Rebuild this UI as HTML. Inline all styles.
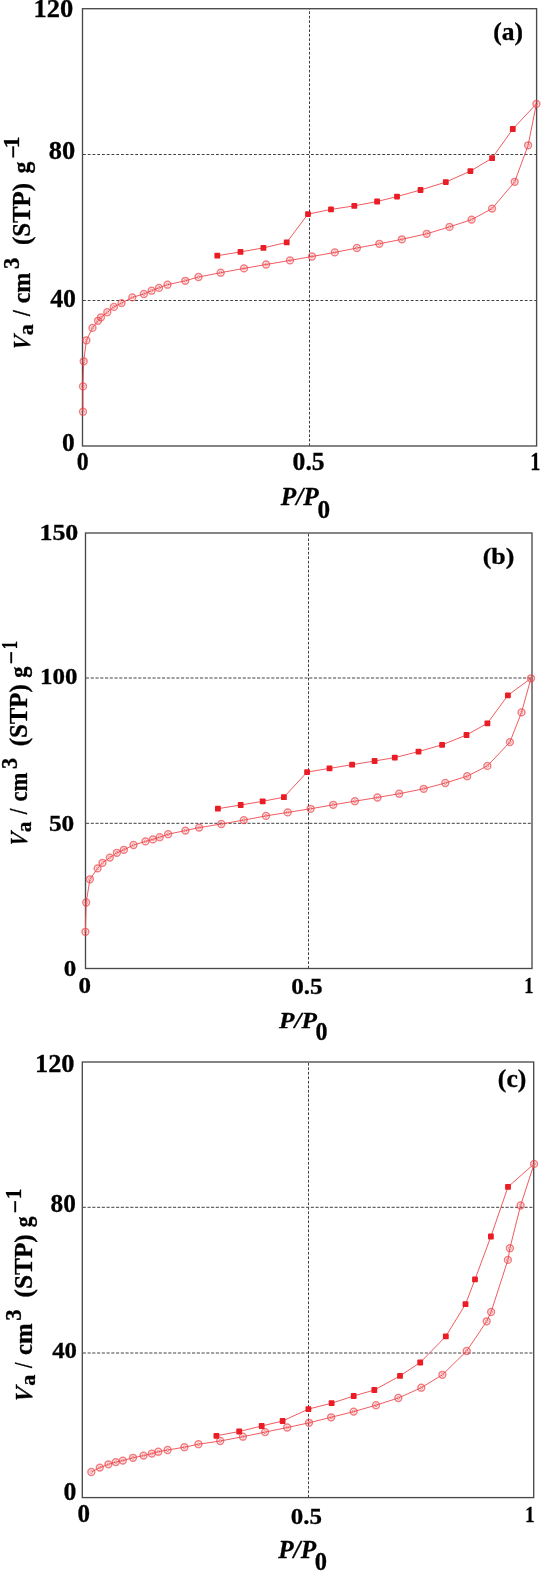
<!DOCTYPE html>
<html><head><meta charset="utf-8"><title>Adsorption isotherms</title>
<style>html,body{margin:0;padding:0;background:#fff}svg{display:block}</style>
</head><body>
<svg width="542" height="1571" viewBox="0 0 542 1571">
<style>
.ax{fill:none;stroke:#4a4a4a;stroke-width:1.35}
.gh{stroke:#404040;stroke-width:1;stroke-dasharray:2.8 1.95}
.gv{stroke:#404040;stroke-width:1;stroke-dasharray:2.7 1.8}
.dl{fill:none;stroke:#ee5257;stroke-width:0.95}
.mo{fill:none;stroke:#ec3f46;stroke-width:1.5;opacity:.68}
.mi{fill:none;stroke:#ec3f46;stroke-width:1.0;opacity:.55}
.ms{fill:#ea1d25}
text{font-family:"Liberation Serif","Times New Roman",serif;font-weight:bold;fill:#000;stroke:#000;stroke-width:0.3}
</style>
<defs><filter id="soft" filterUnits="userSpaceOnUse" x="0" y="0" width="542" height="1571"><feGaussianBlur stdDeviation="0.35"/></filter></defs>
<rect width="542" height="1571" fill="#fff"/>
<g filter="url(#soft)">
<line class="gh" x1="83.0" y1="154.5" x2="536.6" y2="154.5"/>
<line class="gh" x1="83.0" y1="300.5" x2="536.6" y2="300.5"/>
<line class="gv" x1="309.5" y1="446" x2="309.5" y2="8.7"/>
<rect class="ax" x="82.5" y="8.7" width="454.1" height="437.3"/>
<polyline class="dl" points="83.0,411.7 83.0,386.4 83.7,361.3 86.4,340.3 92.5,327.9 98.0,320.8 101.0,317.3 107.3,312.2 113.9,306.9 121.5,303.1 132.3,297.4 143.9,294.0 151.6,290.7 159.0,287.9 167.5,284.7 185.3,280.8 198.5,277.0 220.7,272.7 244.0,268.4 266.1,264.5 290.0,260.4 312.0,256.5 334.8,252.4 356.9,248.0 379.3,243.8 401.9,239.3 426.7,233.8 449.5,226.9 471.6,219.6 492.1,208.6 514.7,181.8 528.1,145.3 536.4,103.9"/>
<polyline class="dl" points="536.4,103.9 512.8,129.0 492.1,158.2 470.4,171.1 445.8,182.1 420.5,190.0 397.0,196.6 377.1,201.5 354.3,205.9 331.0,209.4 308.0,214.1 286.7,242.4 263.4,247.9 240.5,251.9 217.3,255.7"/>
<circle cx="83.0" cy="411.7" r="3.4" class="mo"/><circle cx="83.0" cy="411.7" r="1.5" class="mi"/>
<circle cx="83.0" cy="386.4" r="3.4" class="mo"/><circle cx="83.0" cy="386.4" r="1.5" class="mi"/>
<circle cx="83.7" cy="361.3" r="3.4" class="mo"/><circle cx="83.7" cy="361.3" r="1.5" class="mi"/>
<circle cx="86.4" cy="340.3" r="3.4" class="mo"/><circle cx="86.4" cy="340.3" r="1.5" class="mi"/>
<circle cx="92.5" cy="327.9" r="3.4" class="mo"/><circle cx="92.5" cy="327.9" r="1.5" class="mi"/>
<circle cx="98.0" cy="320.8" r="3.4" class="mo"/><circle cx="98.0" cy="320.8" r="1.5" class="mi"/>
<circle cx="101.0" cy="317.3" r="3.4" class="mo"/><circle cx="101.0" cy="317.3" r="1.5" class="mi"/>
<circle cx="107.3" cy="312.2" r="3.4" class="mo"/><circle cx="107.3" cy="312.2" r="1.5" class="mi"/>
<circle cx="113.9" cy="306.9" r="3.4" class="mo"/><circle cx="113.9" cy="306.9" r="1.5" class="mi"/>
<circle cx="121.5" cy="303.1" r="3.4" class="mo"/><circle cx="121.5" cy="303.1" r="1.5" class="mi"/>
<circle cx="132.3" cy="297.4" r="3.4" class="mo"/><circle cx="132.3" cy="297.4" r="1.5" class="mi"/>
<circle cx="143.9" cy="294.0" r="3.4" class="mo"/><circle cx="143.9" cy="294.0" r="1.5" class="mi"/>
<circle cx="151.6" cy="290.7" r="3.4" class="mo"/><circle cx="151.6" cy="290.7" r="1.5" class="mi"/>
<circle cx="159.0" cy="287.9" r="3.4" class="mo"/><circle cx="159.0" cy="287.9" r="1.5" class="mi"/>
<circle cx="167.5" cy="284.7" r="3.4" class="mo"/><circle cx="167.5" cy="284.7" r="1.5" class="mi"/>
<circle cx="185.3" cy="280.8" r="3.4" class="mo"/><circle cx="185.3" cy="280.8" r="1.5" class="mi"/>
<circle cx="198.5" cy="277.0" r="3.4" class="mo"/><circle cx="198.5" cy="277.0" r="1.5" class="mi"/>
<circle cx="220.7" cy="272.7" r="3.4" class="mo"/><circle cx="220.7" cy="272.7" r="1.5" class="mi"/>
<circle cx="244.0" cy="268.4" r="3.4" class="mo"/><circle cx="244.0" cy="268.4" r="1.5" class="mi"/>
<circle cx="266.1" cy="264.5" r="3.4" class="mo"/><circle cx="266.1" cy="264.5" r="1.5" class="mi"/>
<circle cx="290.0" cy="260.4" r="3.4" class="mo"/><circle cx="290.0" cy="260.4" r="1.5" class="mi"/>
<circle cx="312.0" cy="256.5" r="3.4" class="mo"/><circle cx="312.0" cy="256.5" r="1.5" class="mi"/>
<circle cx="334.8" cy="252.4" r="3.4" class="mo"/><circle cx="334.8" cy="252.4" r="1.5" class="mi"/>
<circle cx="356.9" cy="248.0" r="3.4" class="mo"/><circle cx="356.9" cy="248.0" r="1.5" class="mi"/>
<circle cx="379.3" cy="243.8" r="3.4" class="mo"/><circle cx="379.3" cy="243.8" r="1.5" class="mi"/>
<circle cx="401.9" cy="239.3" r="3.4" class="mo"/><circle cx="401.9" cy="239.3" r="1.5" class="mi"/>
<circle cx="426.7" cy="233.8" r="3.4" class="mo"/><circle cx="426.7" cy="233.8" r="1.5" class="mi"/>
<circle cx="449.5" cy="226.9" r="3.4" class="mo"/><circle cx="449.5" cy="226.9" r="1.5" class="mi"/>
<circle cx="471.6" cy="219.6" r="3.4" class="mo"/><circle cx="471.6" cy="219.6" r="1.5" class="mi"/>
<circle cx="492.1" cy="208.6" r="3.4" class="mo"/><circle cx="492.1" cy="208.6" r="1.5" class="mi"/>
<circle cx="514.7" cy="181.8" r="3.4" class="mo"/><circle cx="514.7" cy="181.8" r="1.5" class="mi"/>
<circle cx="528.1" cy="145.3" r="3.4" class="mo"/><circle cx="528.1" cy="145.3" r="1.5" class="mi"/>
<circle cx="536.4" cy="103.9" r="3.4" class="mo"/><circle cx="536.4" cy="103.9" r="1.5" class="mi"/>
<rect x="509.9" y="126.1" width="5.8" height="5.8" rx="0.9" class="ms"/>
<rect x="489.2" y="155.3" width="5.8" height="5.8" rx="0.9" class="ms"/>
<rect x="467.5" y="168.2" width="5.8" height="5.8" rx="0.9" class="ms"/>
<rect x="442.9" y="179.2" width="5.8" height="5.8" rx="0.9" class="ms"/>
<rect x="417.6" y="187.1" width="5.8" height="5.8" rx="0.9" class="ms"/>
<rect x="394.1" y="193.7" width="5.8" height="5.8" rx="0.9" class="ms"/>
<rect x="374.2" y="198.6" width="5.8" height="5.8" rx="0.9" class="ms"/>
<rect x="351.4" y="203.0" width="5.8" height="5.8" rx="0.9" class="ms"/>
<rect x="328.1" y="206.5" width="5.8" height="5.8" rx="0.9" class="ms"/>
<rect x="305.1" y="211.2" width="5.8" height="5.8" rx="0.9" class="ms"/>
<rect x="283.8" y="239.5" width="5.8" height="5.8" rx="0.9" class="ms"/>
<rect x="260.5" y="245.0" width="5.8" height="5.8" rx="0.9" class="ms"/>
<rect x="237.6" y="249.0" width="5.8" height="5.8" rx="0.9" class="ms"/>
<rect x="214.4" y="252.8" width="5.8" height="5.8" rx="0.9" class="ms"/>
<line class="gh" x1="86.0" y1="678" x2="532" y2="678" style="stroke-dasharray:3.1 1.65"/>
<line class="gh" x1="86.0" y1="823.3" x2="532" y2="823.3" style="stroke-dasharray:3.1 1.65"/>
<line class="gv" x1="308.5" y1="968.5" x2="308.5" y2="533"/>
<rect class="ax" x="85.5" y="533" width="446.5" height="435.5"/>
<polyline class="dl" points="85.4,931.8 86.2,902.5 89.9,879.3 97.6,868.4 102.5,862.8 109.8,857.6 116.9,852.8 123.9,849.8 133.5,845.0 145.5,841.4 152.9,839.4 159.7,837.2 168.1,834.2 185.4,830.6 199.1,827.6 221.3,824.0 243.8,820.1 266.0,815.9 287.7,812.4 310.6,808.8 333.2,804.8 354.9,801.2 377.5,797.5 399.2,793.7 423.7,788.8 445.3,783.0 467.2,776.2 487.4,765.9 509.9,742.1 521.5,712.4 531.0,678.3"/>
<polyline class="dl" points="531.0,678.3 507.9,695.3 487.4,723.3 466.5,735.0 442.1,744.8 418.5,751.6 394.8,757.6 374.6,761.0 352.1,764.7 329.5,768.4 307.1,772.1 283.9,797.2 262.7,801.3 240.7,805.0 217.9,808.7"/>
<circle cx="85.4" cy="931.8" r="3.4" class="mo"/><circle cx="85.4" cy="931.8" r="1.5" class="mi"/>
<circle cx="86.2" cy="902.5" r="3.4" class="mo"/><circle cx="86.2" cy="902.5" r="1.5" class="mi"/>
<circle cx="89.9" cy="879.3" r="3.4" class="mo"/><circle cx="89.9" cy="879.3" r="1.5" class="mi"/>
<circle cx="97.6" cy="868.4" r="3.4" class="mo"/><circle cx="97.6" cy="868.4" r="1.5" class="mi"/>
<circle cx="102.5" cy="862.8" r="3.4" class="mo"/><circle cx="102.5" cy="862.8" r="1.5" class="mi"/>
<circle cx="109.8" cy="857.6" r="3.4" class="mo"/><circle cx="109.8" cy="857.6" r="1.5" class="mi"/>
<circle cx="116.9" cy="852.8" r="3.4" class="mo"/><circle cx="116.9" cy="852.8" r="1.5" class="mi"/>
<circle cx="123.9" cy="849.8" r="3.4" class="mo"/><circle cx="123.9" cy="849.8" r="1.5" class="mi"/>
<circle cx="133.5" cy="845.0" r="3.4" class="mo"/><circle cx="133.5" cy="845.0" r="1.5" class="mi"/>
<circle cx="145.5" cy="841.4" r="3.4" class="mo"/><circle cx="145.5" cy="841.4" r="1.5" class="mi"/>
<circle cx="152.9" cy="839.4" r="3.4" class="mo"/><circle cx="152.9" cy="839.4" r="1.5" class="mi"/>
<circle cx="159.7" cy="837.2" r="3.4" class="mo"/><circle cx="159.7" cy="837.2" r="1.5" class="mi"/>
<circle cx="168.1" cy="834.2" r="3.4" class="mo"/><circle cx="168.1" cy="834.2" r="1.5" class="mi"/>
<circle cx="185.4" cy="830.6" r="3.4" class="mo"/><circle cx="185.4" cy="830.6" r="1.5" class="mi"/>
<circle cx="199.1" cy="827.6" r="3.4" class="mo"/><circle cx="199.1" cy="827.6" r="1.5" class="mi"/>
<circle cx="221.3" cy="824.0" r="3.4" class="mo"/><circle cx="221.3" cy="824.0" r="1.5" class="mi"/>
<circle cx="243.8" cy="820.1" r="3.4" class="mo"/><circle cx="243.8" cy="820.1" r="1.5" class="mi"/>
<circle cx="266.0" cy="815.9" r="3.4" class="mo"/><circle cx="266.0" cy="815.9" r="1.5" class="mi"/>
<circle cx="287.7" cy="812.4" r="3.4" class="mo"/><circle cx="287.7" cy="812.4" r="1.5" class="mi"/>
<circle cx="310.6" cy="808.8" r="3.4" class="mo"/><circle cx="310.6" cy="808.8" r="1.5" class="mi"/>
<circle cx="333.2" cy="804.8" r="3.4" class="mo"/><circle cx="333.2" cy="804.8" r="1.5" class="mi"/>
<circle cx="354.9" cy="801.2" r="3.4" class="mo"/><circle cx="354.9" cy="801.2" r="1.5" class="mi"/>
<circle cx="377.5" cy="797.5" r="3.4" class="mo"/><circle cx="377.5" cy="797.5" r="1.5" class="mi"/>
<circle cx="399.2" cy="793.7" r="3.4" class="mo"/><circle cx="399.2" cy="793.7" r="1.5" class="mi"/>
<circle cx="423.7" cy="788.8" r="3.4" class="mo"/><circle cx="423.7" cy="788.8" r="1.5" class="mi"/>
<circle cx="445.3" cy="783.0" r="3.4" class="mo"/><circle cx="445.3" cy="783.0" r="1.5" class="mi"/>
<circle cx="467.2" cy="776.2" r="3.4" class="mo"/><circle cx="467.2" cy="776.2" r="1.5" class="mi"/>
<circle cx="487.4" cy="765.9" r="3.4" class="mo"/><circle cx="487.4" cy="765.9" r="1.5" class="mi"/>
<circle cx="509.9" cy="742.1" r="3.4" class="mo"/><circle cx="509.9" cy="742.1" r="1.5" class="mi"/>
<circle cx="521.5" cy="712.4" r="3.4" class="mo"/><circle cx="521.5" cy="712.4" r="1.5" class="mi"/>
<circle cx="531.0" cy="678.3" r="3.4" class="mo"/><circle cx="531.0" cy="678.3" r="1.5" class="mi"/>
<rect x="505.0" y="692.4" width="5.8" height="5.8" rx="0.9" class="ms"/>
<rect x="484.5" y="720.4" width="5.8" height="5.8" rx="0.9" class="ms"/>
<rect x="463.6" y="732.1" width="5.8" height="5.8" rx="0.9" class="ms"/>
<rect x="439.2" y="741.9" width="5.8" height="5.8" rx="0.9" class="ms"/>
<rect x="415.6" y="748.7" width="5.8" height="5.8" rx="0.9" class="ms"/>
<rect x="391.9" y="754.7" width="5.8" height="5.8" rx="0.9" class="ms"/>
<rect x="371.7" y="758.1" width="5.8" height="5.8" rx="0.9" class="ms"/>
<rect x="349.2" y="761.8" width="5.8" height="5.8" rx="0.9" class="ms"/>
<rect x="326.6" y="765.5" width="5.8" height="5.8" rx="0.9" class="ms"/>
<rect x="304.2" y="769.2" width="5.8" height="5.8" rx="0.9" class="ms"/>
<rect x="281.0" y="794.3" width="5.8" height="5.8" rx="0.9" class="ms"/>
<rect x="259.8" y="798.4" width="5.8" height="5.8" rx="0.9" class="ms"/>
<rect x="237.8" y="802.1" width="5.8" height="5.8" rx="0.9" class="ms"/>
<rect x="215.0" y="805.8" width="5.8" height="5.8" rx="0.9" class="ms"/>
<line class="gh" x1="82.8" y1="1207.3" x2="533.7" y2="1207.3" style="stroke-dasharray:3.1 1.65"/>
<line class="gh" x1="82.8" y1="1353.0" x2="533.7" y2="1353.0" style="stroke-dasharray:3.1 1.65"/>
<line class="gv" x1="308.5" y1="1497.6" x2="308.5" y2="1062"/>
<rect class="ax" x="82.3" y="1062" width="451.40000000000003" height="435.5999999999999"/>
<polyline class="dl" points="91.3,1472.0 99.8,1467.6 108.4,1464.3 115.8,1462.1 122.8,1460.6 133.0,1457.8 143.5,1455.6 151.8,1453.6 158.3,1451.7 167.6,1450.0 184.4,1447.2 198.4,1444.2 220.2,1441.0 242.9,1436.7 265.1,1432.1 287.2,1427.5 309.0,1422.8 331.1,1417.3 353.7,1411.6 376.0,1405.2 398.3,1398.0 421.3,1387.7 442.4,1374.8 466.7,1351.0 486.7,1321.3 491.1,1312.0 507.9,1259.9 509.9,1248.2 520.6,1205.5 534.1,1163.9"/>
<polyline class="dl" points="534.1,1163.9 508.0,1186.9 490.9,1236.5 475.0,1279.4 465.5,1304.2 445.8,1336.4 420.2,1362.5 400.0,1375.9 374.3,1390.0 353.7,1396.0 331.6,1403.2 308.4,1409.1 282.6,1421.0 261.7,1426.0 239.2,1431.5 216.4,1435.8"/>
<circle cx="91.3" cy="1472.0" r="3.4" class="mo"/><circle cx="91.3" cy="1472.0" r="1.5" class="mi"/>
<circle cx="99.8" cy="1467.6" r="3.4" class="mo"/><circle cx="99.8" cy="1467.6" r="1.5" class="mi"/>
<circle cx="108.4" cy="1464.3" r="3.4" class="mo"/><circle cx="108.4" cy="1464.3" r="1.5" class="mi"/>
<circle cx="115.8" cy="1462.1" r="3.4" class="mo"/><circle cx="115.8" cy="1462.1" r="1.5" class="mi"/>
<circle cx="122.8" cy="1460.6" r="3.4" class="mo"/><circle cx="122.8" cy="1460.6" r="1.5" class="mi"/>
<circle cx="133.0" cy="1457.8" r="3.4" class="mo"/><circle cx="133.0" cy="1457.8" r="1.5" class="mi"/>
<circle cx="143.5" cy="1455.6" r="3.4" class="mo"/><circle cx="143.5" cy="1455.6" r="1.5" class="mi"/>
<circle cx="151.8" cy="1453.6" r="3.4" class="mo"/><circle cx="151.8" cy="1453.6" r="1.5" class="mi"/>
<circle cx="158.3" cy="1451.7" r="3.4" class="mo"/><circle cx="158.3" cy="1451.7" r="1.5" class="mi"/>
<circle cx="167.6" cy="1450.0" r="3.4" class="mo"/><circle cx="167.6" cy="1450.0" r="1.5" class="mi"/>
<circle cx="184.4" cy="1447.2" r="3.4" class="mo"/><circle cx="184.4" cy="1447.2" r="1.5" class="mi"/>
<circle cx="198.4" cy="1444.2" r="3.4" class="mo"/><circle cx="198.4" cy="1444.2" r="1.5" class="mi"/>
<circle cx="220.2" cy="1441.0" r="3.4" class="mo"/><circle cx="220.2" cy="1441.0" r="1.5" class="mi"/>
<circle cx="242.9" cy="1436.7" r="3.4" class="mo"/><circle cx="242.9" cy="1436.7" r="1.5" class="mi"/>
<circle cx="265.1" cy="1432.1" r="3.4" class="mo"/><circle cx="265.1" cy="1432.1" r="1.5" class="mi"/>
<circle cx="287.2" cy="1427.5" r="3.4" class="mo"/><circle cx="287.2" cy="1427.5" r="1.5" class="mi"/>
<circle cx="309.0" cy="1422.8" r="3.4" class="mo"/><circle cx="309.0" cy="1422.8" r="1.5" class="mi"/>
<circle cx="331.1" cy="1417.3" r="3.4" class="mo"/><circle cx="331.1" cy="1417.3" r="1.5" class="mi"/>
<circle cx="353.7" cy="1411.6" r="3.4" class="mo"/><circle cx="353.7" cy="1411.6" r="1.5" class="mi"/>
<circle cx="376.0" cy="1405.2" r="3.4" class="mo"/><circle cx="376.0" cy="1405.2" r="1.5" class="mi"/>
<circle cx="398.3" cy="1398.0" r="3.4" class="mo"/><circle cx="398.3" cy="1398.0" r="1.5" class="mi"/>
<circle cx="421.3" cy="1387.7" r="3.4" class="mo"/><circle cx="421.3" cy="1387.7" r="1.5" class="mi"/>
<circle cx="442.4" cy="1374.8" r="3.4" class="mo"/><circle cx="442.4" cy="1374.8" r="1.5" class="mi"/>
<circle cx="466.7" cy="1351.0" r="3.4" class="mo"/><circle cx="466.7" cy="1351.0" r="1.5" class="mi"/>
<circle cx="486.7" cy="1321.3" r="3.4" class="mo"/><circle cx="486.7" cy="1321.3" r="1.5" class="mi"/>
<circle cx="491.1" cy="1312.0" r="3.4" class="mo"/><circle cx="491.1" cy="1312.0" r="1.5" class="mi"/>
<circle cx="507.9" cy="1259.9" r="3.4" class="mo"/><circle cx="507.9" cy="1259.9" r="1.5" class="mi"/>
<circle cx="509.9" cy="1248.2" r="3.4" class="mo"/><circle cx="509.9" cy="1248.2" r="1.5" class="mi"/>
<circle cx="520.6" cy="1205.5" r="3.4" class="mo"/><circle cx="520.6" cy="1205.5" r="1.5" class="mi"/>
<circle cx="534.1" cy="1163.9" r="3.4" class="mo"/><circle cx="534.1" cy="1163.9" r="1.5" class="mi"/>
<rect x="505.1" y="1184.0" width="5.8" height="5.8" rx="0.9" class="ms"/>
<rect x="488.0" y="1233.6" width="5.8" height="5.8" rx="0.9" class="ms"/>
<rect x="472.1" y="1276.5" width="5.8" height="5.8" rx="0.9" class="ms"/>
<rect x="462.6" y="1301.3" width="5.8" height="5.8" rx="0.9" class="ms"/>
<rect x="442.9" y="1333.5" width="5.8" height="5.8" rx="0.9" class="ms"/>
<rect x="417.3" y="1359.6" width="5.8" height="5.8" rx="0.9" class="ms"/>
<rect x="397.1" y="1373.0" width="5.8" height="5.8" rx="0.9" class="ms"/>
<rect x="371.4" y="1387.1" width="5.8" height="5.8" rx="0.9" class="ms"/>
<rect x="350.8" y="1393.1" width="5.8" height="5.8" rx="0.9" class="ms"/>
<rect x="328.7" y="1400.3" width="5.8" height="5.8" rx="0.9" class="ms"/>
<rect x="305.5" y="1406.2" width="5.8" height="5.8" rx="0.9" class="ms"/>
<rect x="279.7" y="1418.1" width="5.8" height="5.8" rx="0.9" class="ms"/>
<rect x="258.8" y="1423.1" width="5.8" height="5.8" rx="0.9" class="ms"/>
<rect x="236.3" y="1428.6" width="5.8" height="5.8" rx="0.9" class="ms"/>
<rect x="213.5" y="1432.9" width="5.8" height="5.8" rx="0.9" class="ms"/>
<text transform="translate(33.38 16.95) scale(1.053 1)" font-size="25.19">120</text>
<text transform="translate(48.78 158.65) scale(1.073 1)" font-size="24.59">80</text>
<text transform="translate(50.21 306.84) scale(1.002 1)" font-size="25.78">40</text>
<text transform="translate(62.08 451.05) scale(1.000 1)" font-size="25.48">0</text>
<text transform="translate(76.65 469.65) scale(0.940 1)" font-size="25.33">0</text>
<text transform="translate(292.58 470.35) scale(1.042 1)" font-size="24.59">0.5</text>
<text transform="translate(530.18 469.94) scale(0.785 1)" font-size="25.82">1</text>
<text transform="translate(493.15 40.18) scale(1.052 1)" font-size="24.29">(a)</text>
<text transform="translate(39.42 540.07) scale(1.108 1)" font-size="23.41">150</text>
<text transform="translate(40.10 683.87) scale(1.068 1)" font-size="23.41">100</text>
<text transform="translate(48.89 830.87) scale(1.096 1)" font-size="23.11">50</text>
<text transform="translate(63.70 975.66) scale(1.055 1)" font-size="23.70">0</text>
<text transform="translate(78.40 992.87) scale(1.082 1)" font-size="23.11">0</text>
<text transform="translate(291.19 994.47) scale(1.076 1)" font-size="23.41">0.5</text>
<text transform="translate(524.23 993.37) scale(0.784 1)" font-size="23.43">1</text>
<text transform="translate(482.63 563.67) scale(1.086 1)" font-size="23.85">(b)</text>
<text transform="translate(34.99 1072.15) scale(1.073 1)" font-size="24.59">120</text>
<text transform="translate(50.61 1211.95) scale(1.022 1)" font-size="24.74">80</text>
<text transform="translate(52.23 1358.06) scale(1.032 1)" font-size="24.00">40</text>
<text transform="translate(63.47 1500.45) scale(1.015 1)" font-size="25.33">0</text>
<text transform="translate(77.50 1521.95) scale(1.017 1)" font-size="24.59">0</text>
<text transform="translate(290.80 1523.56) scale(1.043 1)" font-size="24.00">0.5</text>
<text transform="translate(524.96 1522.26) scale(0.799 1)" font-size="24.03">1</text>
<text transform="translate(497.84 1087.00) scale(1.062 1)" font-size="24.18">(c)</text>
<text transform="translate(19.40 148.45) rotate(-90) scale(1.035 1)" font-size="23.50">1</text>
<text transform="translate(21.11 158.61) rotate(-90) scale(1.000 1)" font-size="23.50">−</text>
<text transform="translate(29.60 173.59) rotate(-90) scale(0.966 1)" font-size="24.50">g</text>
<text transform="translate(29.60 245.12) rotate(-90) scale(1.016 1)" font-size="24.50">(STP)</text>
<text transform="translate(19.40 269.00) rotate(-90) scale(0.961 1)" font-size="23.50">3</text>
<text transform="translate(29.60 303.35) rotate(-90) scale(0.986 1)" font-size="24.50">cm</text>
<text transform="translate(29.60 316.09) rotate(-90) scale(0.858 1)" font-size="24.50">/</text>
<text transform="translate(33.10 335.16) rotate(-90) scale(1.099 1)" font-size="20.00">a</text>
<text transform="translate(29.60 351.02) rotate(-90) scale(0.865 1) skewX(-10)" font-size="24.50" font-style="italic">V</text>
<text transform="translate(17.00 649.32) rotate(-90) scale(0.702 1)" font-size="23.50">1</text>
<text transform="translate(19.20 664.26) rotate(-90) scale(1.000 1)" font-size="23.50">−</text>
<text transform="translate(27.20 677.66) rotate(-90) scale(0.913 1)" font-size="24.50">g</text>
<text transform="translate(27.20 746.32) rotate(-90) scale(1.014 1)" font-size="24.50">(STP)</text>
<text transform="translate(17.00 768.98) rotate(-90) scale(0.941 1)" font-size="23.50">3</text>
<text transform="translate(27.20 801.59) rotate(-90) scale(0.926 1)" font-size="24.50">cm</text>
<text transform="translate(27.20 814.30) rotate(-90) scale(0.830 1)" font-size="24.50">/</text>
<text transform="translate(30.70 832.14) rotate(-90) scale(1.066 1)" font-size="20.00">a</text>
<text transform="translate(27.20 847.16) rotate(-90) scale(0.828 1) skewX(-10)" font-size="24.50" font-style="italic">V</text>
<text transform="translate(21.30 1199.31) rotate(-90) scale(0.909 1)" font-size="23.50">1</text>
<text transform="translate(23.45 1213.16) rotate(-90) scale(1.000 1)" font-size="23.50">−</text>
<text transform="translate(31.50 1227.24) rotate(-90) scale(0.878 1)" font-size="24.50">g</text>
<text transform="translate(31.50 1297.44) rotate(-90) scale(1.033 1)" font-size="24.50">(STP)</text>
<text transform="translate(21.30 1320.81) rotate(-90) scale(0.971 1)" font-size="23.50">3</text>
<text transform="translate(31.50 1355.07) rotate(-90) scale(1.010 1)" font-size="24.50">cm</text>
<text transform="translate(31.50 1368.01) rotate(-90) scale(0.789 1)" font-size="24.50">/</text>
<text transform="translate(35.00 1385.87) rotate(-90) scale(1.110 1)" font-size="20.00">a</text>
<text transform="translate(31.50 1403.15) rotate(-90) scale(0.919 1) skewX(-10)" font-size="24.50" font-style="italic">V</text>
<text transform="translate(280.70 505.36) scale(1.034 1)" font-size="24.48" font-style="italic">P/P</text>
<text transform="translate(317.49 518.05) scale(1.002 1)" font-size="25.19">0</text>
<text transform="translate(279.00 1028.06) scale(1.060 1)" font-size="23.88" font-style="italic">P/P</text>
<text transform="translate(315.54 1039.96) scale(0.990 1)" font-size="24.30">0</text>
<text transform="translate(278.20 1558.06) scale(1.032 1)" font-size="24.48" font-style="italic">P/P</text>
<text transform="translate(314.72 1569.56) scale(1.009 1)" font-size="24.30">0</text>
</g>
</svg>
</body></html>
